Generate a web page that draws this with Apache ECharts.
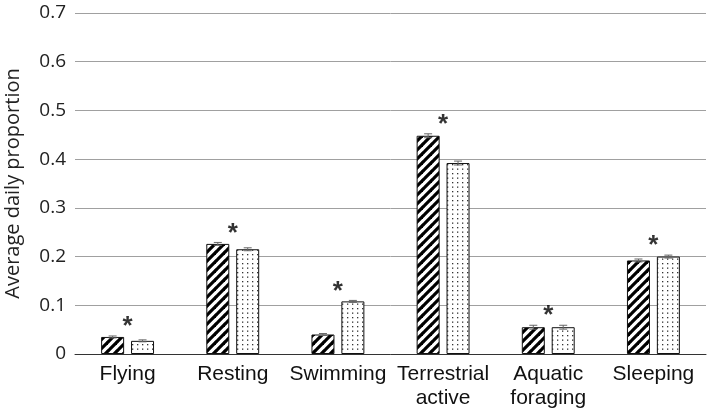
<!DOCTYPE html>
<html>
<head>
<meta charset="utf-8">
<script src="https://cdn.jsdelivr.net/npm/echarts@6/dist/echarts.min.js"></script>
<style>
html,body{margin:0;padding:0;background:#fff;}
#chart{width:709px;height:412px;}
</style>
</head>
<body>
<div id="chart"></div>
<script>
// ---- data ----
var categories = ['Flying', 'Resting', 'Swimming', 'Terrestrial\nactive', 'Aquatic\nforaging', 'Sleeping'];
var hatchedValues = [0.035, 0.226, 0.040, 0.448, 0.055, 0.192];
var hatchedErrors = [0.002, 0.003, 0.002, 0.004, 0.004, 0.003];
var dottedValues  = [0.027, 0.215, 0.108, 0.392, 0.055, 0.200];
var dottedErrors  = [0.002, 0.003, 0.002, 0.004, 0.004, 0.003];
var significant   = [true, true, true, true, true, true];
var yTicks = [0, 0.1, 0.2, 0.3, 0.4, 0.5, 0.6, 0.7];

// ---- patterns ----
function hatchPattern() {
  var s = 9, c = document.createElement('canvas');
  c.width = s; c.height = s;
  var g = c.getContext('2d');
  g.fillStyle = '#fff'; g.fillRect(0, 0, s, s);
  g.strokeStyle = '#000'; g.lineWidth = 3.2;
  for (var k = -1; k <= 1; k++) {
    g.beginPath();
    g.moveTo(k * s - 1, s + 1);
    g.lineTo(k * s + s + 1, -1);
    g.stroke();
  }
  return c;
}
function dotPattern() {
  var c = document.createElement('canvas');
  c.width = 10; c.height = 9;
  var g = c.getContext('2d');
  g.fillStyle = '#fff'; g.fillRect(0, 0, 10, 9);
  g.fillStyle = '#333';
  g.fillRect(2, 2, 1.3, 1.3);
  g.fillRect(7, 2, 1.3, 1.3);
  g.fillRect(2, 6.5, 1.3, 1.3);
  g.fillRect(7, 6.5, 1.3, 1.3);
  return c;
}

var BAR_W = 23, BAR_GAP = 0.3;
var offset = (BAR_W + BAR_W * BAR_GAP) / 2;

function errorSeries(values, errors, dir) {
  return {
    type: 'custom',
    z: 5,
    data: values.map(function (v, i) { return [i, v, errors[i]]; }),
    renderItem: function (params, api) {
      var i = api.value(0), v = api.value(1), e = api.value(2);
      var top = api.coord([i, v + e]);
      var bot = api.coord([i, v - e]);
      var x = top[0] + dir * offset;
      var cap = 4;
      var st = { stroke: '#666', lineWidth: 1 };
      return {
        type: 'group',
        children: [
          { type: 'line', shape: { x1: x, y1: top[1], x2: x, y2: bot[1] }, style: st },
          { type: 'line', shape: { x1: x - cap, y1: top[1], x2: x + cap, y2: top[1] }, style: st },
          { type: 'line', shape: { x1: x - cap, y1: bot[1], x2: x + cap, y2: bot[1] }, style: st }
        ]
      };
    }
  };
}

var starData = categories.map(function (c, i) {
  var m = Math.max(hatchedValues[i] + hatchedErrors[i], dottedValues[i] + dottedErrors[i]);
  return significant[i] ? m : null;
});

var chart = echarts.init(document.getElementById('chart'), null, { renderer: 'canvas' });
chart.setOption({
  animation: false,
  backgroundColor: '#fff',
  grid: { left: 75, right: 3, top: 13, bottom: 58, containLabel: false, outerBoundsMode: 'none' },
  xAxis: {
    type: 'category',
    data: categories,
    axisTick: { show: false },
    axisLine: { lineStyle: { color: '#333', width: 1 } },
    axisLabel: {
      color: '#111', fontSize: 21, fontFamily: 'Liberation Sans, Arial, sans-serif',
      margin: 8, lineHeight: 24, interval: 0
    }
  },
  yAxis: {
    type: 'value',
    min: 0, max: 0.7, interval: 0.1,
    name: 'Average daily proportion',
    nameLocation: 'middle',
    nameGap: 52,
    nameTextStyle: { color: '#222', fontSize: 20, fontFamily: 'Open Sans, Noto Sans, sans-serif' },
    axisLine: { show: false },
    axisTick: { show: false },
    splitLine: { lineStyle: { color: '#a0a0a0', width: 1 } },
    axisLabel: {
      color: '#222', fontSize: 19, fontFamily: 'Open Sans, Noto Sans, sans-serif', margin: 9,
      formatter: function (v) {
        for (var k = 0; k < yTicks.length; k++) {
          if (Math.abs(yTicks[k] - v) < 1e-9) return String(yTicks[k]);
        }
        return '';
      }
    }
  },
  series: [
    {
      type: 'bar', data: hatchedValues, barWidth: BAR_W, barGap: (BAR_GAP * 100) + '%',
      itemStyle: { color: { image: hatchPattern(), repeat: 'repeat' }, borderColor: '#111', borderWidth: 1 }
    },
    {
      type: 'bar', data: dottedValues, barWidth: BAR_W, barGap: (BAR_GAP * 100) + '%',
      itemStyle: { color: { image: dotPattern(), repeat: 'repeat' }, borderColor: '#111', borderWidth: 1 }
    },
    errorSeries(hatchedValues, hatchedErrors, -1),
    errorSeries(dottedValues, dottedErrors, 1),
    {
      type: 'scatter', data: starData, symbolSize: 0, z: 6,
      label: {
        show: true, position: 'top', distance: -4,
        formatter: '*', color: '#000', fontSize: 26, fontWeight: 'bold',
        fontFamily: 'Liberation Sans, Arial, sans-serif'
      }
    }
  ]
});
</script>
</body>
</html>
